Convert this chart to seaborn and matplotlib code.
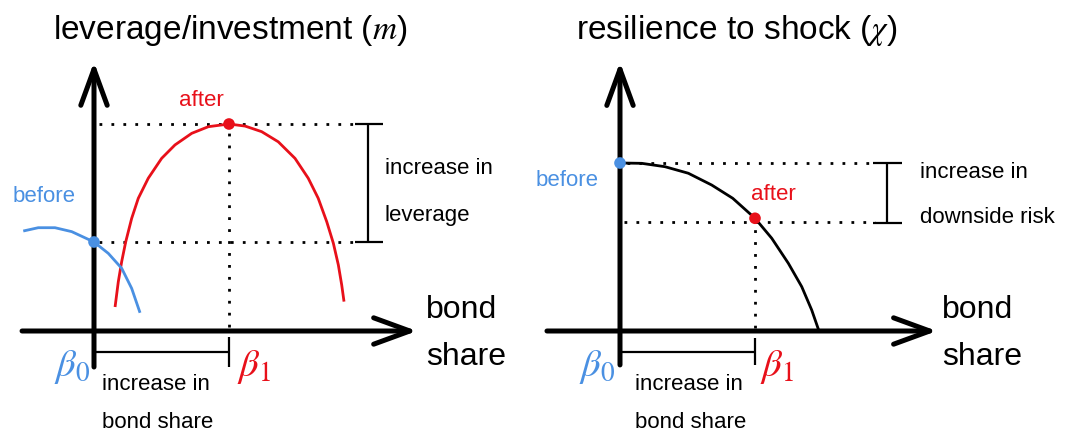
import numpy as np
import pandas as pd
import matplotlib
matplotlib.use("Agg")
import matplotlib.pyplot as plt
import seaborn as sns

sns.set_style("white")
plt.rcParams['font.family'] = ['Liberation Sans', 'DejaVu Sans']
plt.rcParams['mathtext.fontset'] = 'stix'
plt.rcParams['text.color'] = 'black'

# curves (x: bond share, beta0=0, beta1=1)
# left panel: leverage/investment, peak of "after" curve = 1
after_x = [0.156, 0.180, 0.205, 0.235, 0.279, 0.328, 0.402, 0.501, 0.600, 0.724, 0.847, 1.0,
           1.119, 1.242, 1.365, 1.489, 1.587, 1.661, 1.724, 1.773, 1.810, 1.835, 1.852]
after_y = [0.116, 0.238, 0.335, 0.431, 0.544, 0.641, 0.738, 0.834, 0.899, 0.955, 0.987, 1.0,
           0.990, 0.963, 0.914, 0.834, 0.738, 0.641, 0.528, 0.424, 0.319, 0.222, 0.142]
before_x = [-0.524, -0.413, -0.289, -0.165, 0.0, 0.106, 0.205, 0.279, 0.341]
before_y = [0.483, 0.499, 0.499, 0.480, 0.430, 0.375, 0.303, 0.206, 0.088]
lev_before = 0.43
lev_after = 1.0

# right panel: resilience to shock, "before" level = 1
res_x = [0.0, 0.161, 0.333, 0.506, 0.679, 0.835, 1.0, 1.124, 1.247, 1.346, 1.420, 1.474]
res_y = [1.0, 0.998, 0.978, 0.939, 0.869, 0.790, 0.671, 0.552, 0.403, 0.264, 0.125, 0.0]
res_before = 1.0
res_after = 0.671

beta = [0, 1]

BLUE = '#4A90E2'
RED = '#E8101A'
W, H = 1073, 437

fig = plt.figure(figsize=(W / 100, H / 100), dpi=100)


def make_panel(left, right, ox, oy, sx, sy):
    ax = fig.add_axes([left / W, 0, (right - left) / W, 1])
    ax.set_xlim((left - ox) / sx, (right - ox) / sx)
    ax.set_ylim((oy - H) / sy, oy / sy)
    ax.set_axis_off()
    return ax


def label(px, py, s, **kw):
    kw.setdefault('va', 'center')
    fig.text(px / W, 1 - py / H, s, **kw)


def axes_arrows(ax, ytop, ybot, xleft, xright):
    head = dict(arrowstyle='->,head_length=2.6,head_width=0.95', lw=3.6, color='black',
                shrinkA=0, shrinkB=0, mutation_scale=10)
    ax.annotate('', xy=(0, ytop), xytext=(0, ybot), arrowprops=head)
    ax.annotate('', xy=(xright, 0), xytext=(xleft, 0), arrowprops=head)


dots = dict(color='black', lw=2, linestyle=(0, (1, 3.3)))
curve = dict(sort=False, estimator=None, lw=2, solid_joinstyle='round', solid_capstyle='butt')

# ---------------- left panel ----------------
ax1 = make_panel(0, 540, 94, 331, 135, 207)
ax1.hlines([lev_after, lev_before], 0.04, 1.93, **dots)
ax1.vlines(beta[1], 0.02, lev_after, **dots)
sns.lineplot(x=after_x, y=after_y, color=RED, ax=ax1, **curve)
sns.lineplot(x=before_x, y=before_y, color=BLUE, ax=ax1, **curve)
sns.scatterplot(x=[beta[0]], y=[lev_before], color=BLUE, s=70, edgecolor='none', ax=ax1, zorder=5)
sns.scatterplot(x=[beta[1]], y=[lev_after], color=RED, s=70, edgecolor='none', ax=ax1, zorder=5)
axes_arrows(ax1, 1.30, -0.174, -0.533, 2.393)
# bracket for leverage
ax1.vlines(2.03, lev_before, lev_after, color='black', lw=1.6)
ax1.hlines([lev_before, lev_after], 1.93, 2.14, color='black', lw=1.6)
# bracket for bond share
ax1.hlines(-0.101, beta[0], beta[1], color='black', lw=1.6)
ax1.vlines(beta[1], -0.174, -0.029, color='black', lw=1.6)

# ---------------- right panel ----------------
ax2 = make_panel(540, 1073, 620, 331, 135, 168)
ax2.hlines(res_before, 0.05, 1.89, **dots)
ax2.hlines(0.65, 0.03, 1.89, **dots)
ax2.vlines(beta[1], 0.02, res_after, **dots)
sns.lineplot(x=res_x, y=res_y, color='black', ax=ax2, **curve)
sns.scatterplot(x=[beta[0]], y=[res_before], color=BLUE, s=70, edgecolor='none', ax=ax2, zorder=5)
sns.scatterplot(x=[beta[1]], y=[res_after], color=RED, s=70, edgecolor='none', ax=ax2, zorder=5)
axes_arrows(ax2, 1.601, -0.202, -0.541, 2.348)
ax2.vlines(1.978, 0.643, res_before, color='black', lw=1.6)
ax2.hlines([0.643, res_before], 1.874, 2.089, color='black', lw=1.6)
ax2.hlines(-0.125, beta[0], beta[1], color='black', lw=1.6)
ax2.vlines(beta[1], -0.202, -0.042, color='black', lw=1.6)

# ---------------- text ----------------
label(230, 30, 'leverage/investment ($m$)', fontsize=24, ha='center')
label(737, 30, r'resilience to shock ($\chi$)', fontsize=24, ha='center')

label(201, 100, 'after', fontsize=16, color=RED, ha='center')
label(44, 197, 'before', fontsize=16, color=BLUE, ha='center')
label(773, 195, 'after', fontsize=16, color=RED, ha='center')
label(567, 180, 'before', fontsize=16, color=BLUE, ha='center')

label(385, 168, 'increase in', fontsize=16)
label(385, 215, 'leverage', fontsize=16)
label(920, 172, 'increase in', fontsize=16)
label(920, 217, 'downside risk', fontsize=16)

for x0 in [102, 635]:
    label(x0, 385, 'increase in', fontsize=16)
    label(x0, 423, 'bond share', fontsize=16)

for x0 in [426, 942]:
    label(x0, 310, 'bond', fontsize=23)
    label(x0, 357, 'share', fontsize=23)

for xb0, xb1 in [(72, 254), (597, 777)]:
    label(xb0, 367, r'$\beta_0$', fontsize=28, color=BLUE, ha='center')
    label(xb1, 367, r'$\beta_1$', fontsize=28, color=RED, ha='center')

fig.savefig('out.png', dpi=100, facecolor='white')
